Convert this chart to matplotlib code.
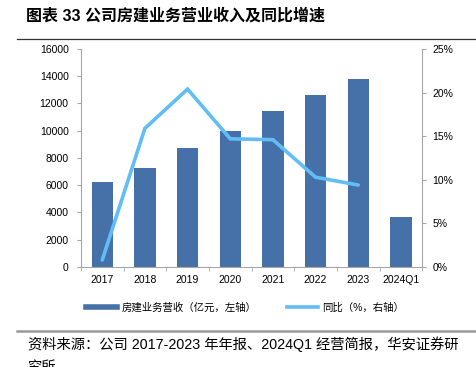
import matplotlib
matplotlib.use("Agg")
import matplotlib.pyplot as plt
from matplotlib.lines import Line2D

plt.rcParams['font.family'] = ['Liberation Sans', 'Noto Sans CJK SC', 'DejaVu Sans']

categories = ['2017', '2018', '2019', '2020', '2021', '2022', '2023', '2024Q1']
revenue = [6220, 7250, 8710, 9990, 11450, 12620, 13800, 3650]
yoy_pct = [0.8, 15.9, 20.4, 14.7, 14.6, 10.3, 9.4]
left_ticks = [0, 2000, 4000, 6000, 8000, 10000, 12000, 14000, 16000]
right_ticks = [0, 5, 10, 15, 20, 25]

bar_color = '#4571A8'
line_color = '#62BDF6'
spine_color = '#A6A6A6'

fig = plt.figure(figsize=(4.76, 3.67), dpi=100)
ax = fig.add_axes([0.170, 0.2725, 0.717, 0.594])
x = list(range(len(categories)))
ax.bar(x, revenue, width=0.5, color=bar_color, zorder=2)
ax.set_xlim(-0.5, len(categories) - 0.5)
ax.set_ylim(0, 16000)
ax.set_yticks(left_ticks)
ax.set_yticklabels([str(t) for t in left_ticks])
ax.set_xticks(x)
ax.set_xticklabels(categories)
ax.set_xticks([i + 0.5 for i in range(-1, len(categories))], minor=True)
ax.tick_params(axis='x', which='major', length=0, labelsize=7.5, pad=6)
ax.tick_params(axis='x', which='minor', length=3, color=spine_color)
ax.tick_params(axis='y', length=3, color=spine_color, labelsize=7.5, pad=5.8)
for s in ['top', 'right']:
    ax.spines[s].set_visible(False)
for s in ['left', 'bottom']:
    ax.spines[s].set_color(spine_color)

ax2 = ax.twinx()
ax2.plot(x[:len(yoy_pct)], yoy_pct, color=line_color, linewidth=2.6, zorder=3,
         solid_capstyle='round', solid_joinstyle='miter')
ax2.set_ylim(0, 25)
ax2.set_yticks(right_ticks)
ax2.set_yticklabels([f'{t}%' for t in right_ticks])
ax2.tick_params(axis='y', length=3, color=spine_color, labelsize=7.5, pad=4.3)
for s in ['top', 'left', 'bottom']:
    ax2.spines[s].set_visible(False)
ax2.spines['right'].set_color(spine_color)

# legend
handles = [Line2D([0], [0], color=bar_color, linewidth=4),
           Line2D([0], [0], color=line_color, linewidth=2.6)]
labels = ['房建业务营收（亿元，左轴）', '同比（%，右轴）']
fig.legend(handles, labels, loc='center', bbox_to_anchor=(0.515, 0.161), ncol=2,
           frameon=False, fontsize=7.5, handlelength=3.0, handletextpad=0.4,
           columnspacing=2.9, borderpad=0.2)

# title
fig.text(0.055, 0.957, '图表 33 公司房建业务营业收入及同比增速', fontsize=11.5,
         fontweight='bold', va='center', ha='left')
fig.add_artist(Line2D([0.036, 1.0], [0.894, 0.894], color='#333333', linewidth=0.9))

# source
fig.add_artist(Line2D([0.036, 1.0], [0.098, 0.098], color='#999999', linewidth=1.8))
fig.text(0.058, 0.063, '资料来源：公司 2017-2023 年年报、2024Q1 经营简报，华安证券研',
         fontsize=10.3, va='center', ha='left')
fig.text(0.058, 0.0, '究所', fontsize=10.3, va='center', ha='left')

fig.savefig('out.png', dpi=100)
